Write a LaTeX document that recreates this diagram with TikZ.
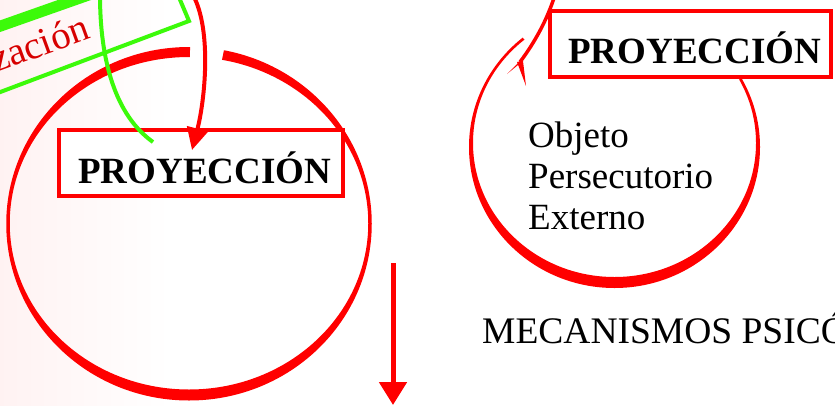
\documentclass[tikz,border=0pt]{standalone}
\usepackage{fontspec}
\setmainfont{Liberation Serif}
\usetikzlibrary{arrows.meta}
\definecolor{rojo}{RGB}{255,0,0}
\definecolor{verde}{RGB}{60,250,10}
\definecolor{rojot}{RGB}{215,0,0}
\begin{document}
\begin{tikzpicture}[x=1pt,y=-1pt,
  box/.style={draw=rojo, line width=4pt, fill=white, inner sep=0pt},
  boldtxt/.style={font=\fontsize{37}{41}\selectfont\bfseries, inner sep=0pt, anchor=base west},
  plaintxt/.style={font=\fontsize{37}{41}\selectfont, inner sep=0pt, anchor=base west},
  greenline/.style={draw=verde, line width=4pt},
  redarrow/.style={draw=rojo, line width=4pt}]
\useasboundingbox (0,0) rectangle (835,405);
\clip (0,0) rectangle (835,405);
\fill[white] (0,0) rectangle (835,405);
\shade[left color=red!5, right color=white] (0,0) rectangle (170,405);

% left ring
\begin{scope}
\clip (189,223.5) -- (191,-123.5) -- (-300,-123.5) -- (-300,800) -- (1000,800) -- (1000,-123.5) -- (259,-123.5) -- cycle;
\fill[rojo, even odd rule] (189,223.75) ellipse [x radius=182.75pt, y radius=176.75pt]
  (189,223.25) ellipse [x radius=179.25pt, y radius=166.25pt];
\end{scope}

% right ring
\begin{scope}
\clip (614.5,145) -- (1116.5,-119) -- (1200,-119) -- (1200,700) -- (0,700) -- (0,-283) -- (248.5,-283) -- cycle;
\fill[rojo, even odd rule] (614.5,147) ellipse [x radius=145.5pt, y radius=141pt]
  (614.5,143) ellipse [x radius=141.5pt, y radius=134pt];
\end{scope}

% boxes
\node[box, minimum width=284pt, minimum height=66pt] (boxL) at (201,163) {};
\node[boldtxt] (txtL) at (78,183) {PROYECCIÓN};
\node[box, minimum width=281pt, minimum height=66pt] (boxR) at (690.5,44) {};
\node[boldtxt] (txtR) at (568,63) {PROYECCIÓN};

% texts in right ring
\node[plaintxt] (o1) at (528,147) {Objeto};
\node[plaintxt] (o2) at (528,188) {Persecutorio};
\node[plaintxt] (o3) at (528,229) {Externo};

\node[font=\fontsize{37.5}{40}\selectfont, inner sep=0pt, anchor=base west] (mec) at (482,343) {MECANISMOS PSICÓ};

% green frame and curve
\draw[greenline] (-5,94) -- (189,21) -- (178,-5);
\draw[draw=verde, line width=11pt] (-5,28) -- (100,-9);
\draw[greenline] (100,-5) .. controls (100,60) and (115,115) .. (153,142);
\node[rotate=20, anchor=base east, text=rojot, font=\fontsize{39}{41}\selectfont, inner sep=0pt] (zac) at (92,38) {zación};

% left curved arrow
\coordinate (aL0) at (193,-5);
\coordinate (aL1) at (192,150);
\draw[redarrow, -{Triangle[length=22pt, width=21pt]}] (aL0) .. controls (212,30) and (205,100) .. (aL1);

% vertical arrow
\coordinate (v0) at (393,263);
\coordinate (v1) at (393,405);
\draw[draw=rojo, line width=5pt, -{Triangle[length=23pt, width=27pt]}] (v0) -- (v1);

% right curved arrow
\coordinate (aR0) at (555,-5);
\coordinate (aR1) at (520,62);
\draw[draw=rojo, line width=3.5pt] (aR0) .. controls (547,20) and (535,42) .. (aR1);
\fill[rojo] (522,59) -- (518,65) -- (507,74) -- cycle;
\fill[rojo] (517,62) -- (523,61) -- (526,86) -- cycle;
\end{tikzpicture}
\end{document}
